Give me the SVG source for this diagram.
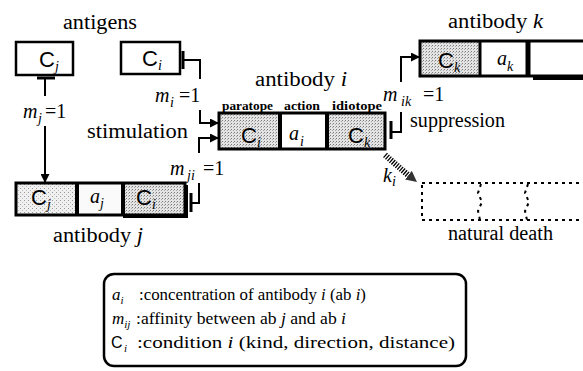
<svg xmlns="http://www.w3.org/2000/svg" width="583" height="371" viewBox="0 0 583 371">
  <defs>
    <!-- stippled fill for paratope / idiotope cells -->
    <pattern id="stip" width="3" height="3" patternUnits="userSpaceOnUse">
      <rect width="3" height="3" fill="#e4e4e4"/>
      <rect x="0" y="0" width="1" height="1" fill="#7a7a7a"/>
      <rect x="2" y="1" width="1" height="1" fill="#a8a8a8"/>
    </pattern>
    <pattern id="stipLight" width="4" height="4" patternUnits="userSpaceOnUse">
      <rect width="4" height="4" fill="#f0f0f0"/>
      <rect x="0" y="0" width="1" height="1" fill="#999"/>
      <rect x="2" y="2" width="1" height="1" fill="#bbb"/>
    </pattern>
    <marker id="arrow" viewBox="0 0 10 10" refX="10" refY="5" markerWidth="9" markerHeight="9" markerUnits="userSpaceOnUse" orient="auto">
      <path d="M0,0 L10,5 L0,10 z" fill="#000"/>
    </marker>
    <marker id="hatchHead" viewBox="0 0 10 10" refX="10" refY="5" markerWidth="11" markerHeight="11" markerUnits="userSpaceOnUse" orient="auto">
      <path d="M0,0 L10,5 L0,10 z" fill="#333"/>
    </marker>
    <style>
      .lbl { font-family: "Liberation Serif", "Times New Roman", serif; font-size: 20px; fill: #000; }
      .it { font-style: italic; }
      .sub { font-family: "Liberation Serif", "Times New Roman", serif; font-style: italic; font-size: 14px; }
      .cs { font-family: "Liberation Sans", Arial, sans-serif; font-size: 22px; fill: #000; }
      .tiny { font-family: "Liberation Serif", serif; font-weight: bold; font-size: 12px; }
      .leg { font-family: "Liberation Serif", "Times New Roman", serif; font-size: 16.5px; fill: #000; }
      .legsym { font-size: 17px; }
      .legsub { font-size: 11px; font-style: italic; }
      .legC { font-family: "Liberation Sans", Arial, sans-serif; font-size: 16px; }
      .box { fill: none; stroke: #000; stroke-width: 3; }
      .div { stroke: #000; stroke-width: 4; }
      .ln { fill: none; stroke: #000; stroke-width: 2; }
      .bar { stroke: #000; stroke-width: 3; }
      .dash { fill: none; stroke: #000; stroke-width: 2; stroke-dasharray: 3 4; }
    </style>
  </defs>

  <rect width="583" height="371" fill="#fff"/>

  <text class="lbl" x="63" y="29" textLength="74" lengthAdjust="spacingAndGlyphs">antigens</text>

  <!-- antigen C_j -->
  <g id="antigen-cj">
    <rect x="16" y="42" width="57" height="33" fill="#fff" stroke="#000" stroke-width="2.5"/>
    <text class="cs" x="39" y="67">C</text>
    <text class="sub" x="55" y="71">j</text>
  </g>

  <!-- antigen C_i -->
  <g id="antigen-ci">
    <rect x="121" y="42" width="59" height="32" fill="#fff" stroke="#000" stroke-width="2.5"/>
    <text class="cs" x="142" y="66">C</text>
    <text class="sub" x="158" y="70">i</text>
  </g>

  <!-- antibody i -->
  <g id="antibody-i">
    <text class="lbl" x="255" y="86" textLength="92" lengthAdjust="spacingAndGlyphs">antibody <tspan class="it">i</tspan></text>
    <text class="tiny" x="222" y="110" textLength="51" lengthAdjust="spacingAndGlyphs">paratope</text>
    <text class="tiny" x="284" y="110" textLength="36" lengthAdjust="spacingAndGlyphs">action</text>
    <text class="tiny" x="332" y="110" textLength="50" lengthAdjust="spacingAndGlyphs">idiotope</text>
    <rect x="219" y="113" width="61" height="36" fill="url(#stip)"/>
    <rect x="280" y="113" width="47" height="36" fill="#fff"/>
    <rect x="327" y="113" width="58" height="36" fill="url(#stip)"/>
    <rect class="box" x="219" y="113" width="166" height="36" stroke-width="3.5"/>
    <line class="div" x1="280" y1="113" x2="280" y2="149"/>
    <line class="div" x1="327" y1="113" x2="327" y2="149"/>
    <text class="cs" x="241" y="143" font-size="23">C</text>
    <text class="sub" x="257" y="147">i</text>
    <text class="lbl it" x="289" y="140" font-size="21">a</text>
    <text class="sub" x="300" y="146">i</text>
    <text class="cs" x="348" y="143" font-size="23">C</text>
    <text class="sub" x="364" y="147">k</text>
  </g>

  <!-- antibody j -->
  <g id="antibody-j">
    <rect x="16" y="183" width="61" height="32" fill="url(#stipLight)"/>
    <rect x="77" y="183" width="46" height="32" fill="#fafafa"/>
    <rect x="123" y="183" width="62" height="32" fill="url(#stip)"/>
    <rect class="box" x="16" y="183" width="169" height="32"/>
    <line class="div" x1="77" y1="183" x2="77" y2="215"/>
    <line class="div" x1="123" y1="183" x2="123" y2="215"/>
    <path d="M123,216.5 H186.5 V185" class="bar" fill="none"/>
    <text class="cs" x="31" y="205">C</text>
    <text class="sub" x="47" y="209">j</text>
    <text class="lbl it" x="90" y="203">a</text>
    <text class="sub" x="100" y="208">j</text>
    <text class="cs" x="136" y="205">C</text>
    <text class="sub" x="152" y="209">i</text>
    <text class="lbl" x="53" y="242" textLength="90" lengthAdjust="spacingAndGlyphs">antibody <tspan class="it">j</tspan></text>
  </g>

  <!-- antibody k -->
  <g id="antibody-k">
    <text class="lbl" x="448" y="28" textLength="95" lengthAdjust="spacingAndGlyphs">antibody <tspan class="it">k</tspan></text>
    <rect x="420" y="41" width="60" height="35" fill="url(#stip)"/>
    <rect x="480" y="41" width="110" height="35" fill="#fff"/>
    <rect class="box" x="420" y="41" width="175" height="35"/>
    <line class="bar" x1="480" y1="41" x2="480" y2="76"/>
    <line x1="528" y1="41" x2="528" y2="76" stroke="#000" stroke-width="5"/>
    <line x1="533" y1="78" x2="583" y2="78" stroke="#000" stroke-width="4"/>
    <text class="cs" x="438" y="68">C</text>
    <text class="sub" x="454" y="72">k</text>
    <text class="lbl it" x="497" y="65">a</text>
    <text class="sub" x="507" y="71">k</text>
  </g>

  <!-- natural death (dashed outline of a removed antibody) -->
  <g id="natural-death">
    <rect class="dash" x="422" y="183" width="172" height="37"/>
    <path class="dash" d="M481,184 L478,193 L482,202 L478,211 L480,220"/>
    <path class="dash" d="M528,184 L525,193 L529,202 L525,211 L527,220"/>
    <text class="lbl" x="448" y="240" textLength="105" lengthAdjust="spacingAndGlyphs">natural death</text>
  </g>

  <!-- connectors with affinity labels -->
  <g id="connectors">
    <!-- antigen C_j to antibody j -->
    <line class="bar" x1="37" y1="78" x2="55" y2="78"/>
    <line class="ln" x1="45" y1="78" x2="45" y2="96"/>
    <line class="ln" x1="45" y1="126" x2="45" y2="183" marker-end="url(#arrow)"/>
    <text class="lbl it" x="23" y="118">m</text>
    <text class="sub" x="38" y="123">j</text>
    <text class="lbl" x="45" y="118">=1</text>

    <!-- antigen C_i stimulates antibody i -->
    <line class="bar" x1="183" y1="51" x2="183" y2="69"/>
    <path class="ln" d="M183,60 H200 V79"/>
    <path class="ln" d="M200,110 V123 H219" marker-end="url(#arrow)"/>
    <text class="lbl it" x="155" y="102">m</text>
    <text class="sub" x="170" y="107">i</text>
    <text class="lbl" x="179" y="102">=1</text>

    <!-- antibody j stimulates antibody i -->
    <line class="bar" x1="191" y1="193" x2="191" y2="212"/>
    <path class="ln" d="M191,203 H199 V183"/>
    <path class="ln" d="M199,153 V138 H219" marker-end="url(#arrow)"/>
    <text class="lbl it" x="170" y="175">m</text>
    <text class="sub" x="187" y="180">ji</text>
    <text class="lbl" x="203" y="175">=1</text>

    <text class="lbl" x="87" y="138" textLength="101" lengthAdjust="spacingAndGlyphs">stimulation</text>

    <!-- antibody i suppresses antibody k -->
    <line class="bar" x1="391" y1="121" x2="391" y2="139"/>
    <path class="ln" d="M391,132 H401 V112"/>
    <path class="ln" d="M401,82 V57 H420" marker-end="url(#arrow)"/>
    <text class="lbl it" x="383" y="101">m</text>
    <text class="sub" x="401" y="106">ik</text>
    <text class="lbl" x="423" y="101">=1</text>
    <text class="lbl" x="410" y="127" textLength="95" lengthAdjust="spacingAndGlyphs">suppression</text>

    <!-- natural death rate k_i -->
    <line x1="385" y1="155" x2="408" y2="175" stroke="#000" stroke-width="6" stroke-dasharray="1.3 1.3"/>
    <line x1="405" y1="172.5" x2="417" y2="182" stroke="#333" stroke-width="0.1" marker-end="url(#hatchHead)"/>
    <text class="lbl it" x="383" y="182">k</text>
    <text class="sub" x="392" y="186">i</text>
  </g>

  <!-- legend -->
  <g id="legend">
    <rect x="104" y="274" width="362" height="92" rx="10" fill="none" stroke="#000" stroke-width="2.5"/>
    <text class="leg" x="112" y="300"><tspan class="it legsym">a</tspan><tspan class="legsub" dy="4">i</tspan></text>
    <text class="leg" x="139" y="300" textLength="227" lengthAdjust="spacingAndGlyphs">:concentration of antibody <tspan class="it">i</tspan> (ab <tspan class="it">i</tspan>)</text>
    <text class="leg" x="112" y="324"><tspan class="it legsym">m</tspan><tspan class="legsub" dy="4">ij</tspan></text>
    <text class="leg" x="136" y="324" textLength="210" lengthAdjust="spacingAndGlyphs">:affinity between ab <tspan class="it">j</tspan> and ab <tspan class="it">i</tspan></text>
    <text class="leg" x="111" y="348"><tspan class="legC">C</tspan><tspan class="legsub" dx="1.5" dy="4">i</tspan></text>
    <text class="leg" x="137" y="348" textLength="318" lengthAdjust="spacingAndGlyphs">:condition <tspan class="it">i</tspan> (kind, direction, distance)</text>
  </g>
</svg>
